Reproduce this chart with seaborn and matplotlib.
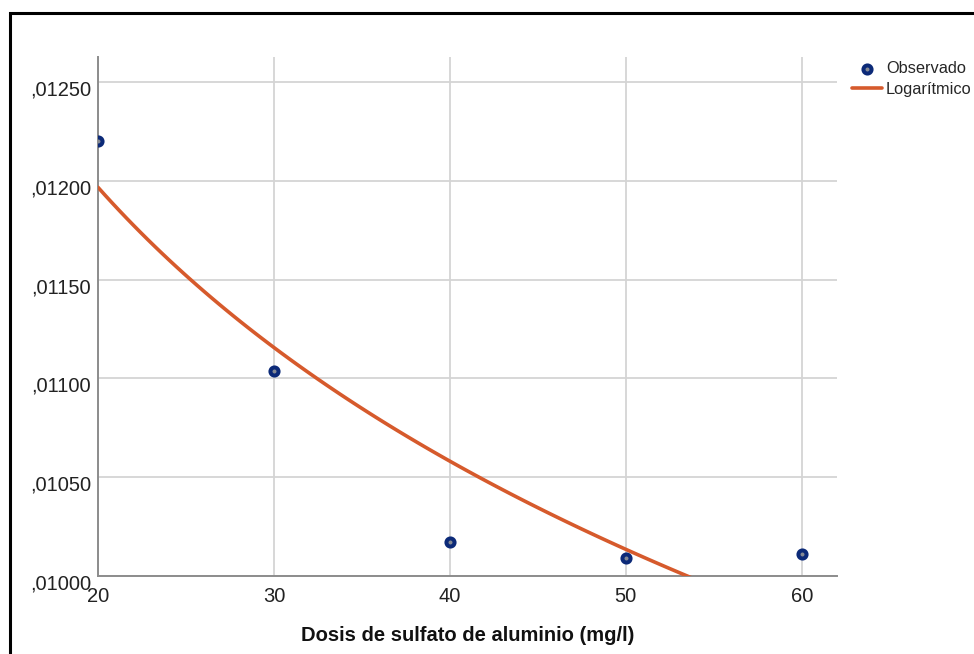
import numpy as np
import pandas as pd
import matplotlib
matplotlib.use("Agg")
import matplotlib.pyplot as plt
from matplotlib.patches import Rectangle
from matplotlib.transforms import ScaledTranslation
from matplotlib.ticker import FuncFormatter
import seaborn as sns

# Data
dosis = [20, 30, 40, 50, 60]
observado = [0.01220, 0.01104, 0.01017, 0.01009, 0.01011]
x_ticks = [20, 30, 40, 50, 60]
y_ticks = [0.0100, 0.0105, 0.0110, 0.0115, 0.0120, 0.0125]
x_label = "Dosis de sulfato de aluminio (mg/l)"
label_obs = "Observado"
label_fit = "Logarítmico"

sns.set_theme(style="white")
plt.rcParams['font.family'] = ['Liberation Sans', 'DejaVu Sans']

df = pd.DataFrame({"dosis": dosis, "obs": observado})

fig = plt.figure(figsize=(9.74, 6.54), dpi=100)
ax = fig.add_axes([98/974, 1-576/654, (837-98)/974, (576-57)/654])

navy = "#0c2a78"
orange = "#d65a2c"

sns.regplot(data=df, x="dosis", y="obs", logx=True, ci=None, scatter=False,
            ax=ax, label=label_fit, line_kws=dict(color=orange, lw=2.6, zorder=3))
sns.scatterplot(data=df, x="dosis", y="obs", ax=ax, s=34, color="#858a94",
                edgecolor=navy, linewidth=2.9, label=label_obs, zorder=4,
                clip_on=True)

ax.set_xlim(20, 62)
ax.set_ylim(0.0100, 0.012627)
ax.set_xticks(x_ticks)
ax.set_yticks(y_ticks)
ax.yaxis.set_major_formatter(FuncFormatter(
    lambda v, p: ("%.5f" % v).lstrip("0").replace(".", ",")))

ax.grid(True, color="#d4d4d4", lw=1.3)
ax.set_axisbelow(True)
for s in ["top", "right"]:
    ax.spines[s].set_visible(False)
for s in ["left", "bottom"]:
    ax.spines[s].set_color("#8c8c8c")
    ax.spines[s].set_linewidth(1.4)

ax.tick_params(axis="both", length=0, labelsize=14.5, colors="#222222")
ax.tick_params(axis="x", pad=8)
ax.tick_params(axis="y", pad=5)
for lab in ax.get_yticklabels():
    lab.set_transform(lab.get_transform() +
                      ScaledTranslation(0, -6/100, fig.dpi_scale_trans))

ax.set_xlabel(x_label, fontsize=14.5, fontweight="bold", color="#111111", labelpad=14)
ax.set_ylabel("")

handles, labels = ax.get_legend_handles_labels()
hmap = dict(zip(labels, handles))
ax.legend([hmap[label_obs], hmap[label_fit]], [label_obs, label_fit],
          loc="upper left", bbox_to_anchor=(852/974, 1-61/654),
          bbox_transform=fig.transFigure, frameon=False, fontsize=11.8,
          handlelength=1.8, handletextpad=0.28, labelspacing=0.38,
          borderpad=0, borderaxespad=0)

fig.patches.append(Rectangle((10/974, -0.1), 1.2, 1 - 13/654 + 0.1,
                             transform=fig.transFigure, fill=False,
                             edgecolor="black", lw=2.2, zorder=10))

fig.savefig("out.png", dpi=100)
